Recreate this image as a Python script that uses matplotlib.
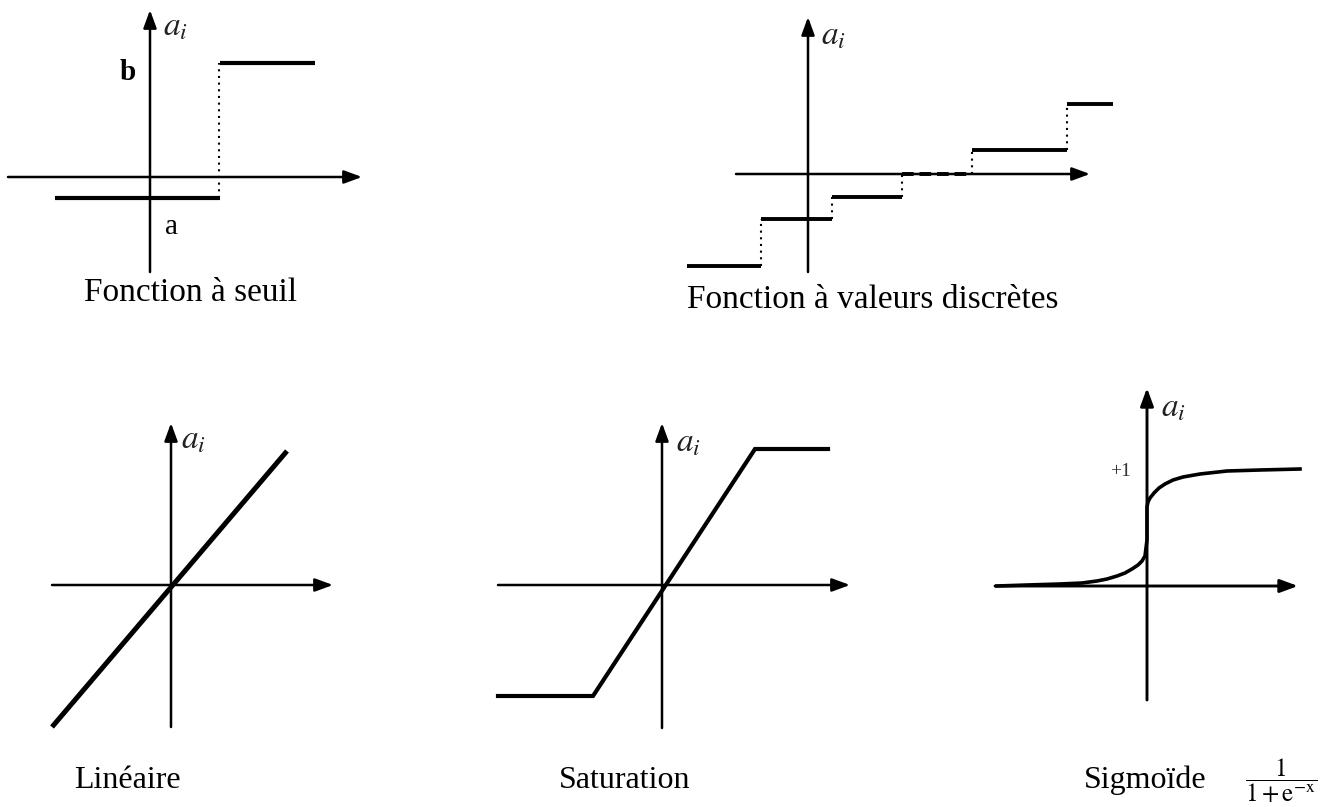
import matplotlib.pyplot as plt

# figure size in pixels (dpi 100)
W, H = 1338, 807

# --- data (local units = px, origin at the crossing of the two axes) ---
# Fonction a seuil
seuil_threshold = 70
seuil_levels = [-21, 114]          # a, b
seuil_xrange = [-95, 165]

# Fonction a valeurs discretes
disc_edges = [-121, -47, 24, 94, 164, 259, 305]
disc_levels = [-92, -45, -23, 0, 24, 70]

# Lineaire
lin_x = [-119, 116]
lin_y = [-142, 134]

# Saturation
sat_x = [-164, -69, 93, 166]
sat_y = [-111, -111, 136, 136]

# Sigmoide
sig_x = [-150, -120, -87, -65, -50, -40, -30, -22, -15, -9, -5, -2, -1, 0,
         0, 1, 3, 7, 12, 18, 26, 36, 53, 80, 113, 153]
sig_y = [0, 1, 2, 3, 5, 7, 10, 13, 17, 21, 25, 30, 38, 46,
         79, 84, 88, 93, 98, 102, 106, 109, 112, 115, 116, 117]

titles = ["Fonction à seuil", "Fonction à valeurs discrètes",
          "Linéaire", "Saturation", "Sigmoïde"]

plt.rcParams['font.family'] = ['Liberation Serif', 'DejaVu Serif']
plt.rcParams['mathtext.fontset'] = 'stix'


def panel(fig, ox, oy, xmin, xmax, ymin, ymax):
    # axes where 1 data unit = 1 pixel, origin at figure pixel (ox, oy)
    rect = [(ox + xmin) / W, (H - (oy - ymin)) / H,
            (xmax - xmin) / W, (ymax - ymin) / H]
    ax = fig.add_axes(rect)
    ax.set_xlim(xmin, xmax)
    ax.set_ylim(ymin, ymax)
    ax.axis('off')
    return ax


def draw_axes(ax, x0, x1, y0, y1, lw=1.8):
    style = '-|>,head_length=0.6,head_width=0.22'
    ax.annotate('', xy=(x1, 0), xytext=(x0, 0),
                arrowprops=dict(arrowstyle=style, mutation_scale=18, lw=lw,
                                color='black', shrinkA=0, shrinkB=0))
    ax.annotate('', xy=(0, y1), xytext=(0, y0),
                arrowprops=dict(arrowstyle=style, mutation_scale=18, lw=lw,
                                color='black', shrinkA=0, shrinkB=0))


def label_ai(ax, x, y):
    ax.text(x, y, r'$a_i$', fontsize=24, color='#222222',
            ha='center', va='center')


def main():
    fig = plt.figure(figsize=(W / 100, H / 100), dpi=100)
    dotted = (0, (1, 2.2))

    # ---- Fonction a seuil ----
    ax = panel(fig, 150, 177, -145, 215, -100, 172)
    draw_axes(ax, -142, 212, -95, 167)
    ax.hlines(seuil_levels[0], seuil_xrange[0], seuil_threshold, color='black', lw=3)
    ax.hlines(seuil_levels[1], seuil_threshold, seuil_xrange[1], color='black', lw=3)
    ax.vlines(seuil_threshold - 1, seuil_levels[0], seuil_levels[1],
              color='black', lw=1.5, linestyles=[dotted])
    ax.text(-22, 105, 'b', fontsize=21, ha='center', va='center', fontweight='bold')
    ax.text(22, -50, 'a', fontsize=21, ha='center', va='center')
    label_ai(ax, 25, 150)

    # ---- Fonction a valeurs discretes ----
    ax = panel(fig, 808, 174, -125, 310, -100, 162)
    draw_axes(ax, -72, 282, -98, 157)
    for i, lev in enumerate(disc_levels):
        ls = '-' if lev != 0 else (0, (3, 1.5))
        ax.hlines(lev, disc_edges[i], disc_edges[i + 1], color='black', lw=2.8,
                  linestyles=[ls])
        if i + 1 < len(disc_levels):
            ax.vlines(disc_edges[i + 1], lev, disc_levels[i + 1], color='black',
                      lw=1.5, linestyles=[dotted])
    label_ai(ax, 25, 138)

    # ---- Lineaire ----
    ax = panel(fig, 171, 585, -125, 170, -148, 170)
    draw_axes(ax, -119, 162, -142, 162)
    ax.plot(lin_x, lin_y, color='black', lw=3.6, solid_capstyle='butt')
    label_ai(ax, 22, 145)

    # ---- Saturation ----
    ax = panel(fig, 662, 585, -170, 195, -148, 170)
    draw_axes(ax, -164, 188, -143, 162)
    ax.plot(sat_x, sat_y, color='black', lw=3, solid_joinstyle='miter')
    label_ai(ax, 26, 142)

    # ---- Sigmoide ----
    ax = panel(fig, 1147, 586, -155, 158, -118, 205)
    draw_axes(ax, -152, 151, -114, 198, lw=2.1)
    ax.plot(sig_x, sig_y, color='black', lw=2.6, solid_joinstyle='round')
    ax.text(-27, 114, '+1', fontsize=14, ha='center', va='center', color='#333333')
    label_ai(ax, 26, 178)

    # ---- titles ----
    fig.text(190 / W, 1 - 293 / H, titles[0], fontsize=24, ha='center', va='center')
    fig.text(873 / W, 1 - 300 / H, titles[1], fontsize=24, ha='center', va='center')
    fig.text(127 / W, 1 - 780 / H, titles[2], fontsize=23, ha='center', va='center')
    fig.text(625 / W, 1 - 780 / H, titles[3], fontsize=23, ha='center', va='center')
    fig.text(1145 / W, 1 - 780 / H, titles[4], fontsize=23, ha='center', va='center')
    fig.text(1281 / W, 1 - 781 / H, r'$\dfrac{1}{\mathrm{1+e^{-x}}}$',
             fontsize=18, ha='center', va='center')

    fig.savefig('out.png', dpi=100)


if __name__ == "__main__":
    main()
